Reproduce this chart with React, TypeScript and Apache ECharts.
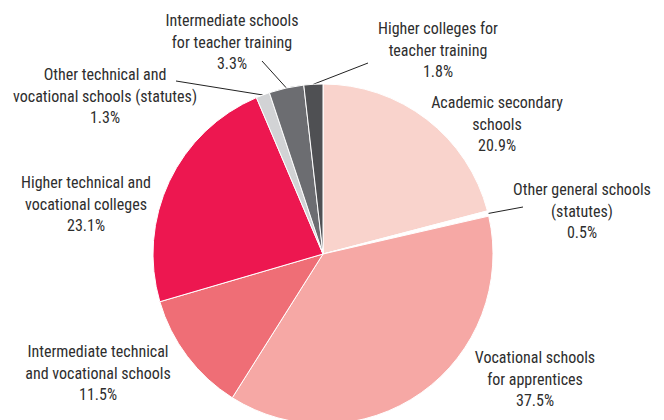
import React, { useEffect, useRef } from "react";
import * as echarts from "echarts";

const categories = [
  "Academic secondary\nschools",
  "Other general schools\n(statutes)",
  "Vocational schools\nfor apprentices",
  "Intermediate technical\nand vocational schools",
  "Higher technical and\nvocational colleges",
  "Other technical and\nvocational schools (statutes)",
  "Intermediate schools\nfor teacher training",
  "Higher colleges for\nteacher training",
];
const shares = [20.9, 0.5, 37.5, 11.5, 23.1, 1.3, 3.3, 1.8];
const colors = ["#f9d3cc", "#ffffff", "#f6a8a5", "#ef6e76", "#ed1750", "#d2d3d5", "#6c6d71", "#4f5053"];
const withLine = [false, true, false, false, false, true, true, true];

// label anchor (center x, top y) and leader-line end points
const labelPos: [number, number][] = [
  [497, 92],
  [582, 179],
  [535, 347],
  [98, 341],
  [86, 172],
  [105, 64],
  [232, 10],
  [438, 18],
];
const lineEnds: ([number, number] | null)[] = [
  null,
  [523, 207],
  null,
  null,
  null,
  [176, 81],
  [262, 61],
  [368, 63],
];

export default function App() {
  const ref = useRef<HTMLDivElement>(null);
  useEffect(() => {
    if (!ref.current) return;
    const chart = echarts.init(ref.current, null, { renderer: "svg" });
    chart.setOption({
      animation: false,
      backgroundColor: "#ffffff",
      series: [
        {
          type: "pie",
          center: [323, 254],
          radius: 170,
          startAngle: 90,
          clockwise: true,
          avoidLabelOverlap: false,
          itemStyle: { borderColor: "#ffffff", borderWidth: 1 },
          label: {
            show: true,
            position: "outside",
            formatter: (p: any) => `${p.name}\n${p.value.toFixed(1)}%`,
            fontFamily: "'Liberation Sans Narrow', 'Roboto Condensed', 'Arial Narrow', sans-serif",
            fontSize: 16,
            lineHeight: 21.5,
            color: "#2e2e2e",
            align: "center",
          },
          labelLine: {
            show: true,
            length: 10,
            length2: 10,
            lineStyle: { color: "#222222", width: 1 },
          },
          labelLayout: (params: any) => {
            const i = params.dataIndex;
            const [x, y] = labelPos[i];
            const res: any = { x, y, align: "center", verticalAlign: "top" };
            const end = lineEnds[i];
            if (end && params.labelLinePoints) {
              const p0 = params.labelLinePoints[0];
              res.labelLinePoints = [p0, end, end];
            }
            return res;
          },
          data: categories.map((name, i) => ({
            name,
            value: shares[i],
            itemStyle: { color: colors[i] },
            labelLine: { show: withLine[i] },
          })),
        },
      ],
    });
    return () => chart.dispose();
  }, []);
  return (
    <div
      ref={ref}
      style={{ position: "fixed", left: 0, top: 0, width: 664, height: 420 }}
    />
  );
}
